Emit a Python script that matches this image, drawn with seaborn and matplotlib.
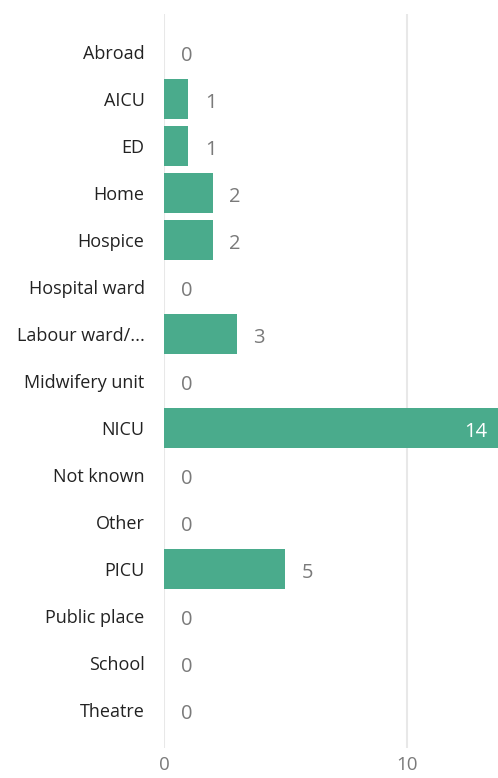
import matplotlib
matplotlib.use('Agg')
import matplotlib.pyplot as plt
import seaborn as sns
import pandas as pd

locations = ['Abroad', 'AICU', 'ED', 'Home', 'Hospice', 'Hospital ward', 'Labour ward/...',
             'Midwifery unit', 'NICU', 'Not known', 'Other', 'PICU', 'Public place',
             'School', 'Theatre']
counts = [0, 1, 1, 2, 2, 0, 3, 0, 14, 0, 0, 5, 0, 0, 0]

if __name__ == '__main__':
    df = pd.DataFrame({'Location': locations, 'Count': counts})

    sns.set_style('white')
    plt.rcParams['font.family'] = ['Open Sans', 'DejaVu Sans']

    fig = plt.figure(figsize=(4.98, 7.78), dpi=100)
    ax = fig.add_axes([164 / 498, 30 / 778, 334 / 498, 734 / 778])

    sns.barplot(data=df, x='Count', y='Location', color='#4aab8c', saturation=1,
                width=0.85, linewidth=0, ax=ax, zorder=3)

    ax.set_xlim(0, 13.75)
    ax.set_ylim(14.81, -0.81)
    ax.set_xticks([0, 10])
    ax.grid(axis='x', color='#e8e8e8', linewidth=1.5, zorder=0)
    for s in ax.spines.values():
        s.set_visible(False)
    ax.set_xlabel('')
    ax.set_ylabel('')
    ax.tick_params(axis='y', length=0, pad=14, labelsize=13, labelcolor='#222222')
    ax.tick_params(axis='x', length=0, pad=6, labelsize=13.5, labelcolor='#7a7a7a')

    for i, v in enumerate(counts):
        if v >= 13:
            ax.annotate(f'{v}', xy=(13.75, i), xytext=(-8, -3), textcoords='offset points',
                        ha='right', va='center', fontsize=14.5, color='white', zorder=4)
        else:
            ax.annotate(f'{v}', xy=(v, i), xytext=(12, -3), textcoords='offset points',
                        ha='left', va='center', fontsize=14.5, color='#7a7a7a', zorder=4)

    plt.savefig('out.png', dpi=100)
